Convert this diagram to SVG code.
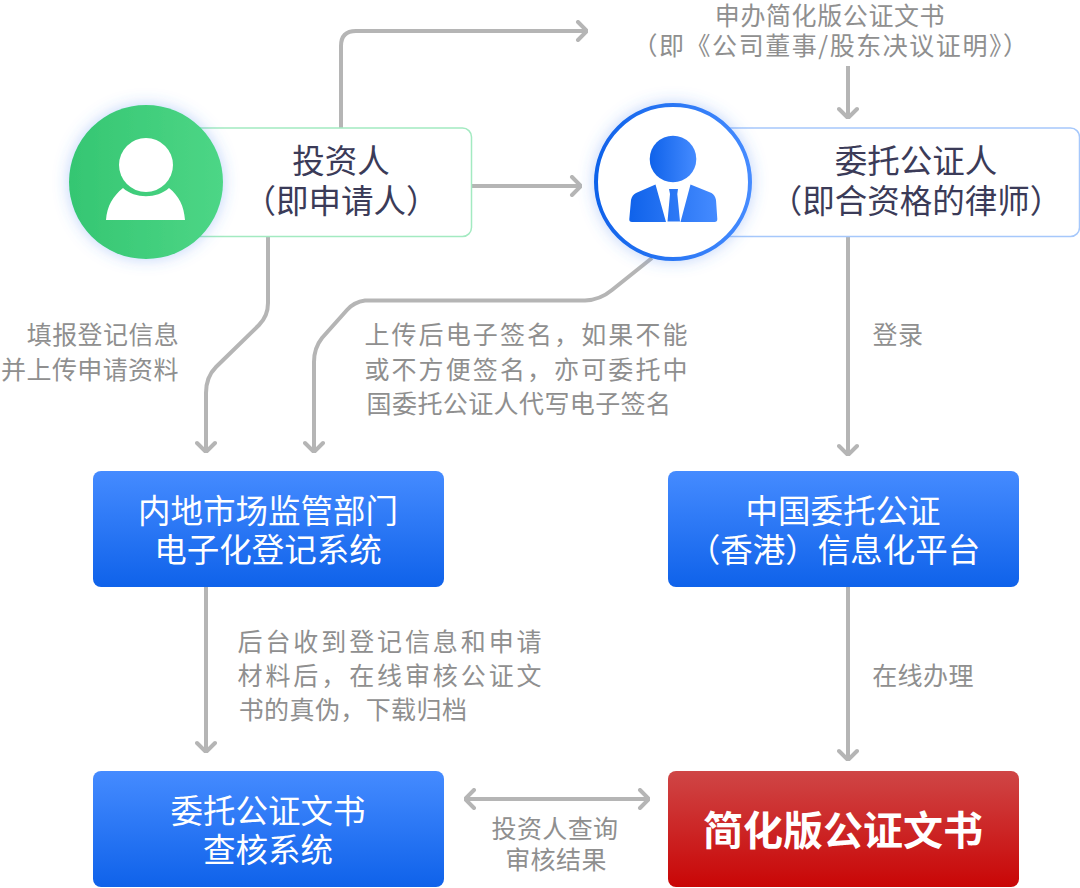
<svg xmlns="http://www.w3.org/2000/svg" width="1080" height="888" viewBox="0 0 1080 888">
<defs>
<linearGradient id="blue" x1="0" y1="0" x2="0" y2="1"><stop offset="0" stop-color="#458bff"/><stop offset="1" stop-color="#0f62ea"/></linearGradient>
<linearGradient id="red" x1="0" y1="0" x2="0" y2="1"><stop offset="0" stop-color="#cf4646"/><stop offset="1" stop-color="#c90606"/></linearGradient>
<linearGradient id="green" x1="0" y1="0" x2="1" y2="0"><stop offset="0" stop-color="#35c672"/><stop offset="1" stop-color="#4dd686"/></linearGradient>
<linearGradient id="blueH" x1="0" y1="0" x2="1" y2="0"><stop offset="0" stop-color="#0f62ea"/><stop offset="1" stop-color="#458bff"/></linearGradient>
<linearGradient id="suit" gradientUnits="userSpaceOnUse" x1="629" y1="0" x2="717" y2="0"><stop offset="0" stop-color="#0f62ea"/><stop offset="1" stop-color="#458bff"/></linearGradient>
<filter id="glow" x="-30%" y="-30%" width="160%" height="160%"><feDropShadow dx="0" dy="0" stdDeviation="8" flood-color="#3f7ff0" flood-opacity=".35"/></filter>
<marker id="arrow" viewBox="-12 -11 13 22" markerWidth="13" markerHeight="22" refX="0" refY="0" orient="auto-start-reverse" markerUnits="userSpaceOnUse"><path d="M-9-9 0 0-9 9" fill="none" stroke="#b5b5b5" stroke-width="4" stroke-linecap="round" stroke-linejoin="round"/></marker>
</defs>
<style>
text{font-family:"Noto Sans CJK SC","Noto Sans",sans-serif;text-anchor:middle}
.c{fill:none;stroke:#b5b5b5;stroke-width:4;marker-end:url(#arrow)}
.l{font-size:25px;fill:#8f8f8f;letter-spacing:.4px}
.n{font-size:32.500px;fill:#fff}
.p{font-size:32.500px;fill:#3b3b58}
.card{fill:#fff;stroke-width:1.5}
</style>
<g id="connectors">
<path class="c" d="M341 128V46Q341 31 356 31H587"/>
<path class="c" d="M848 66V118"/>
<path class="c" d="M472 186H581"/>
<path class="c" d="M268 237V303Q268 316 259 325L216 367Q206 377 206 393V452"/>
<path class="c" d="M652 258 612 290Q600 300 585 300.500H365Q354 302 347 310L322 338Q314 348 314 362V452"/>
<path class="c" d="M848 237V455"/>
<path class="c" d="M206 587V752"/>
<path class="c" d="M848 587V760"/>
<path class="c" d="M465 799H649" style="marker-start:url(#arrow)"/>
</g>
<g id="investor">
<rect class="card" x="160" y="128" width="311.500" height="108.500" rx="9" stroke="#a3eac1"/>
<circle cx="146" cy="182" r="77" fill="url(#green)" filter="url(#glow)"/>
<circle cx="146" cy="165" r="27" fill="#fff"/>
<path d="M106 220C107 206 113 196 123 188C135 199 157 199 169 188C179 196 184 206 185 220Z" fill="#fff"/>
<text class="p"><tspan x="341" y="173">投资人</tspan><tspan x="341" y="213">（即申请人）</tspan></text>
</g>
<g id="notary">
<rect class="card" x="680" y="128" width="399.500" height="108.500" rx="9" stroke="#a6c8fb"/>
<circle cx="673" cy="182" r="77" fill="#fff" stroke="url(#blueH)" stroke-width="4" filter="url(#glow)"/>
<circle cx="673" cy="159" r="23.300" fill="url(#blueH)"/>
<path d="M655.500 184.500 666 222H632Q629 222 629.300 219L631 200Q632 195 636 193ZM690.500 184.500 680.500 222H714.500Q717.500 222 717.300 219L716 200Q715 195 711.500 193Z" fill="url(#suit)"/>
<path d="M669 189H678L677.300 194 680 221.500H667.500L670 194Z" fill="url(#suit)"/>
<text class="p"><tspan x="916" y="173">委托公证人</tspan><tspan x="916" y="213">（即合资格的律师）</tspan></text>
</g>
<g id="register">
<rect x="93" y="471" width="351" height="116" rx="8" fill="url(#blue)"/>
<text class="n"><tspan x="268" y="523">内地市场监管部门</tspan><tspan x="268" y="562">电子化登记系统</tspan></text>
</g>
<g id="platform">
<rect x="668" y="471" width="351" height="116" rx="8" fill="url(#blue)"/>
<text class="n"><tspan x="843" y="523">中国委托公证</tspan><tspan x="834" y="562">（香港）信息化平台</tspan></text>
</g>
<g id="check">
<rect x="93" y="771" width="351" height="116" rx="8" fill="url(#blue)"/>
<text class="n"><tspan x="268" y="823">委托公证文书</tspan><tspan x="268" y="862">查核系统</tspan></text>
</g>
<g id="result">
<rect x="668" y="771" width="351" height="116" rx="8" fill="url(#red)"/>
<text x="843" y="845" font-size="40" font-weight="700" fill="#fff">简化版公证文书</text>
</g>
<g id="labels">
<text class="l" style="letter-spacing:.6px"><tspan x="830" y="25">申办简化版公证文书</tspan></text>
<text class="l" style="letter-spacing:1.550px"><tspan x="831" y="55">（即《公司董事/股东决议证明》）</tspan></text>
<text class="l"><tspan x="103" y="344">填报登记信息</tspan><tspan x="90" y="379">并上传申请资料</tspan></text>
<text class="l" style="letter-spacing:2.100px"><tspan x="527" y="344">上传后电子签名，如果不能</tspan><tspan x="527" y="379">或不方便签名，亦可委托中</tspan></text>
<text class="l" x="519" y="413">国委托公证人代写电子签名</text>
<text class="l" x="898" y="344">登录</text>
<text class="l" style="letter-spacing:2.900px"><tspan x="391" y="651">后台收到登记信息和申请</tspan><tspan x="391" y="685">材料后，在线审核公证文</tspan></text>
<text class="l" x="353" y="719">书的真伪，下载归档</text>
<text class="l" x="923" y="685">在线办理</text>
<text class="l"><tspan x="555" y="838">投资人查询</tspan><tspan x="556" y="869">审核结果</tspan></text>
</g>
</svg>
